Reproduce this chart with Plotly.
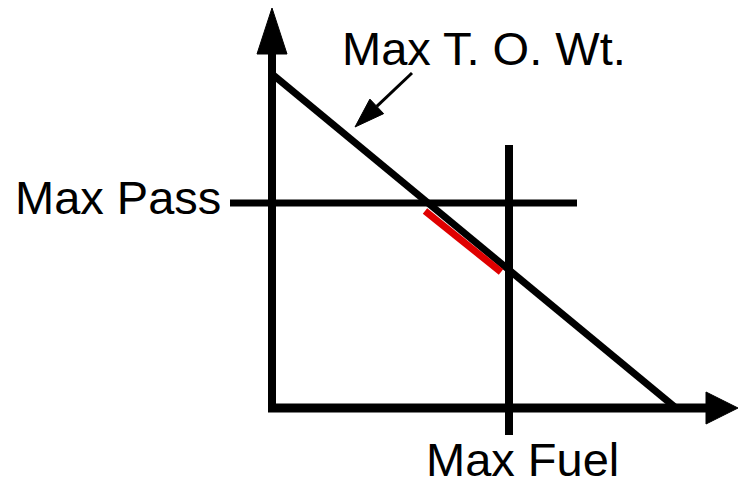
import plotly.graph_objects as go
import numpy as np

# Schematic geometry (pixel-like data units; y grows downward)
W, H = 738, 488
y_axis_x = [272, 272]
y_axis_y = [412, 50]
y_head_x = [257, 272, 287, 257]
y_head_y = [54, 8, 54, 54]
x_axis_x = [268, 710]
x_axis_y = [408, 408]
x_head_x = [706, 738, 706, 706]
x_head_y = [392, 408, 424, 392]
tow_x = [272, 676]
tow_y = [74, 408]
pass_x = [230, 577]
pass_y = [203, 203]
fuel_x = [509, 509]
fuel_y = [145, 435]
red_x = [425, 501]
red_y = [211, 272]
pointer_start = [412, 73]
pointer_tip = [355, 127]

labels = ["Max T. O. Wt.", "Max Pass", "Max Fuel"]
label_x = [340, 13, 424]
label_y = [48, 197, 459]

fig = go.Figure()

def line(xs, ys, color="black", width=8):
    fig.add_trace(go.Scatter(x=xs, y=ys, mode="lines",
                             line=dict(color=color, width=width),
                             hoverinfo="skip", showlegend=False))

def tri(xs, ys):
    fig.add_trace(go.Scatter(x=xs, y=ys, mode="lines", fill="toself",
                             fillcolor="black", line=dict(color="black", width=1),
                             hoverinfo="skip", showlegend=False))

line(y_axis_x, y_axis_y, width=8)
tri(y_head_x, y_head_y)
line(x_axis_x, x_axis_y, width=9)
tri(x_head_x, x_head_y)
line(pass_x, pass_y, width=7)
line(fuel_x, fuel_y, width=8)
line(tow_x, tow_y, width=7)
line(red_x, red_y, color="#e00000", width=7)

# pointer arrow
s = np.array(pointer_start, float)
t = np.array(pointer_tip, float)
u = (t - s) / np.linalg.norm(t - s)
p = np.array([-u[1], u[0]])
base = t - 30 * u
line([s[0], base[0]], [s[1], base[1]], width=3)
b1 = base + 10 * p
b2 = base - 10 * p
tri([b1[0], t[0], b2[0], b1[0]], [b1[1], t[1], b2[1], b1[1]])

for txt, lx, ly in zip(labels, label_x, label_y):
    fig.add_annotation(x=lx, y=ly, text=txt, showarrow=False,
                       xanchor="left", yanchor="middle",
                       font=dict(family="Liberation Sans, Arial", size=47, color="black"))

fig.update_layout(width=W, height=H, margin=dict(l=0, r=0, t=0, b=0),
                  plot_bgcolor="white", paper_bgcolor="white")
fig.update_xaxes(range=[0, W], visible=False, fixedrange=True)
fig.update_yaxes(range=[H, 0], visible=False, fixedrange=True)

fig.write_html("out.html", config={"displayModeBar": False},
               post_script="document.body.style.margin='0';document.body.style.overflow='hidden';")
